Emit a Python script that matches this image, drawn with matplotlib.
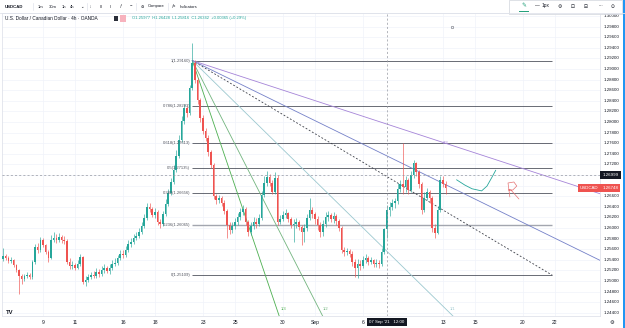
import matplotlib
matplotlib.use("Agg")
import matplotlib.pyplot as plt
import matplotlib.transforms as mtransforms
from matplotlib.patches import Rectangle

plt.rcParams["font.family"] = ["Liberation Sans", "DejaVu Sans"]

W, H = 625, 328

# USDCAD 4h candles, index 0 = 5 Aug 12:00, index 15 = 9 Aug 00:00 (6 candles a day)
first_open = 1.2542
closes = [
    1.2547, 1.2543, 1.2538, 1.2540, 1.2530, 1.2521, 1.2509, 1.2504, 1.2509, 1.2511,
    1.2507, 1.2536, 1.2564, 1.2558, 1.2577, 1.2568, 1.2555, 1.2543, 1.2577, 1.2581,
    1.2577, 1.2583, 1.2577, 1.2575, 1.2536, 1.2528, 1.2530, 1.2524, 1.2532, 1.2545,
    1.2498, 1.2502, 1.2507, 1.2511, 1.2509, 1.2517, 1.2513, 1.2521, 1.2524, 1.2519,
    1.2524, 1.2532, 1.2534, 1.2543, 1.2551, 1.2549, 1.2558, 1.2570, 1.2574, 1.2581,
    1.2585, 1.2592, 1.2604, 1.2619, 1.2640, 1.2636, 1.2625, 1.2630, 1.2611, 1.2608,
    1.2626, 1.2645, 1.2666, 1.2687, 1.2709, 1.2736, 1.2766, 1.2802, 1.2826, 1.2817,
    1.2864, 1.2911, 1.2879, 1.2842, 1.2808, 1.2783, 1.2770, 1.2743, 1.2719, 1.2660,
    1.2653, 1.2657, 1.2647, 1.2632, 1.2606, 1.2596, 1.2604, 1.2611, 1.2621, 1.2630,
    1.2636, 1.2611, 1.2592, 1.2604, 1.2611, 1.2608, 1.2619, 1.2662, 1.2685, 1.2696,
    1.2685, 1.2668, 1.2694, 1.2611, 1.2617, 1.2625, 1.2628, 1.2617, 1.2606, 1.2608,
    1.2611, 1.2602, 1.2592, 1.2600, 1.2619, 1.2634, 1.2626, 1.2617, 1.2606, 1.2592,
    1.2608, 1.2621, 1.2625, 1.2617, 1.2623, 1.2613, 1.2600, 1.2558, 1.2555, 1.2557,
    1.2551, 1.2536, 1.2524, 1.2532, 1.2528, 1.2540, 1.2543, 1.2536, 1.2540, 1.2532,
    1.2534, 1.2532, 1.2555, 1.25977, 1.26342, 1.2640, 1.2647, 1.2651, 1.2674, 1.2683,
    1.2677, 1.2691, 1.2672, 1.2700, 1.2723, 1.2706, 1.2683, 1.2634, 1.2657, 1.2668,
    1.2657, 1.2600, 1.2591, 1.2634, 1.2691, 1.2683, 1.26748,
]
highs = [
    1.2562, 1.2551, 1.2547, 1.2545, 1.2541, 1.2532, 1.2523, 1.2513, 1.2513, 1.2517,
    1.2515, 1.2540, 1.2570, 1.2572, 1.2583, 1.2581, 1.2570, 1.2558, 1.2587, 1.2592,
    1.2589, 1.2591, 1.2587, 1.2585, 1.2579, 1.2543, 1.2538, 1.2534, 1.2540, 1.2551,
    1.2547, 1.2509, 1.2513, 1.2517, 1.2519, 1.2524, 1.2523, 1.2528, 1.2532, 1.2528,
    1.2532, 1.2540, 1.2543, 1.2549, 1.2558, 1.2558, 1.2566, 1.2577, 1.2581, 1.2589,
    1.2592, 1.2600, 1.2611, 1.2626, 1.2647, 1.2647, 1.2640, 1.2638, 1.2634, 1.2617,
    1.2632, 1.2655, 1.2674, 1.2694, 1.2719, 1.2747, 1.2775, 1.2811, 1.2834, 1.2830,
    1.2870, 1.2949, 1.2917, 1.2883, 1.2845, 1.2813, 1.2789, 1.2775, 1.2747, 1.2723,
    1.2664, 1.2662, 1.2660, 1.2653, 1.2636, 1.2611, 1.2611, 1.2619, 1.2628, 1.2638,
    1.2643, 1.2640, 1.2615, 1.2611, 1.2621, 1.2619, 1.2626, 1.2670, 1.2698, 1.2708,
    1.2702, 1.2691, 1.2706, 1.2700, 1.2625, 1.2632, 1.2636, 1.2630, 1.2621, 1.2617,
    1.2619, 1.2615, 1.2606, 1.2608, 1.2626, 1.2657, 1.2640, 1.2630, 1.2623, 1.2611,
    1.2615, 1.2630, 1.2632, 1.2628, 1.2630, 1.2626, 1.2617, 1.2604, 1.2564, 1.2562,
    1.2560, 1.2557, 1.2541, 1.2541, 1.2540, 1.2547, 1.2551, 1.2547, 1.2545, 1.2541,
    1.2541, 1.2540, 1.2562, 1.2600, 1.26428, 1.2649, 1.2655, 1.2657, 1.2685, 1.2691,
    1.2760, 1.2698, 1.2694, 1.2708, 1.2728, 1.2725, 1.2709, 1.2687, 1.2668, 1.2675,
    1.2672, 1.2660, 1.2608, 1.2641, 1.2698, 1.2698, 1.2689,
]
lows = [
    1.2538, 1.2540, 1.2534, 1.2534, 1.2526, 1.2517, 1.2475, 1.2494, 1.2500, 1.2506,
    1.2504, 1.2504, 1.2532, 1.2553, 1.2555, 1.2564, 1.2551, 1.2536, 1.2541, 1.2574,
    1.2572, 1.2574, 1.2572, 1.2570, 1.2532, 1.2523, 1.2523, 1.2521, 1.2523, 1.2528,
    1.2494, 1.2491, 1.2498, 1.2504, 1.2506, 1.2506, 1.2507, 1.2509, 1.2515, 1.2515,
    1.2513, 1.2521, 1.2528, 1.2530, 1.2540, 1.2543, 1.2545, 1.2555, 1.2564, 1.2570,
    1.2577, 1.2581, 1.2589, 1.2600, 1.2615, 1.2630, 1.2621, 1.2619, 1.2606, 1.2600,
    1.2604, 1.2623, 1.2641, 1.2662, 1.2683, 1.2706, 1.2732, 1.2762, 1.2796, 1.2809,
    1.2813, 1.2860, 1.2874, 1.2834, 1.2800, 1.2777, 1.2764, 1.2736, 1.2713, 1.2655,
    1.2645, 1.2647, 1.2641, 1.2626, 1.2581, 1.2589, 1.2591, 1.2598, 1.2606, 1.2615,
    1.2625, 1.2606, 1.2585, 1.2587, 1.2598, 1.2600, 1.2604, 1.2615, 1.2658, 1.2679,
    1.2679, 1.2664, 1.2664, 1.2606, 1.2608, 1.2613, 1.2619, 1.2611, 1.2600, 1.2574,
    1.2600, 1.2596, 1.2568, 1.2574, 1.2594, 1.2615, 1.2619, 1.2608, 1.2596, 1.2583,
    1.2585, 1.2602, 1.2613, 1.2611, 1.2609, 1.2606, 1.2594, 1.2553, 1.2547, 1.2549,
    1.2545, 1.2528, 1.2507, 1.2506, 1.2521, 1.2524, 1.2534, 1.2530, 1.2532, 1.2526,
    1.2526, 1.2524, 1.2528, 1.2551, 1.25816, 1.2623, 1.2634, 1.2638, 1.2645, 1.2668,
    1.2664, 1.2668, 1.2664, 1.2668, 1.2694, 1.2698, 1.2675, 1.2626, 1.2630, 1.2653,
    1.2647, 1.2592, 1.2581, 1.2589, 1.2630, 1.2677, 1.2664,
]

# time axis
date_labels = ["9", "11", "16", "18", "23", "25", "30", "Sep", "6", "13", "15", "20", "22"]
date_index = [15, 27, 45, 57, 75, 87, 105, 117, 135, 165, 177, 195, 207]
price_ticks = [round(1.244 + 0.002 * i, 3) for i in range(29)]

# fib retracement drawn on the chart
fib_names = ["1", "0.786", "0.618", "0.5", "0.382", "0.236", "0"]
fib_ratios = [1, 0.786, 0.618, 0.5, 0.382, 0.236, 0]
fib_high, fib_low = 1.29160, 1.25109
fib_start, fib_end = 71, 206

# speed resistance fan from the top
fan_origin = (71, 1.29160)
fan_box = (95.5, 0.0471)

# crosshair
cross_index, cross_price = 144, 1.26999
last_price = closes[-1]

# hand drawn bits
curve_x = [170.1, 173.2, 175.9, 179.5, 181.5, 183.4, 184.8]
curve_y = [1.2691, 1.2681, 1.2674, 1.2670, 1.2679, 1.2696, 1.2709]
r_x = [190.1, 189.4, 191.6, 192.7, 191.2, 189.7, 190.5, 193.5]
r_y = [1.26585, 1.26849, 1.26868, 1.26792, 1.26717, 1.26717, 1.26717, 1.26547]

opens = [first_open] + closes[:-1]
highs = [max(h, o, c) for h, o, c in zip(highs, opens, closes)]
lows = [min(l, o, c) for l, o, c in zip(lows, opens, closes)]
idx = list(range(len(closes)))

UP, DOWN = "#26a69a", "#ef5350"
TXT = "#131722"

fig = plt.figure(figsize=(W / 100, H / 100), dpi=100)
fig.patch.set_facecolor("white")

ax = fig.add_axes([2 / W, 1 - 316 / H, 598 / W, 303 / H])
ax.set_xlim(-0.375, 223.9)
ax.set_ylim(1.24339, 1.30057)
ax.set_facecolor("white")

# grid
ax.set_yticks(price_ticks)
ax.set_xticks(date_index, date_labels)
ax.grid(color="#f0f3fa", lw=0.5)
ax.set_axisbelow(True)
ax.tick_params(axis="y", length=0, labelleft=False)
ax.tick_params(axis="x", length=0, pad=3.0, labelsize=3.6, labelcolor=TXT)
for s in ax.spines.values():
    s.set_color("#e0e3eb")
    s.set_linewidth(0.6)

# candles
colors = [UP if c >= o else DOWN for o, c in zip(opens, closes)]
ax.vlines(idx, lows, highs, colors=colors, lw=0.45, zorder=3)
bottoms = [min(o, c) for o, c in zip(opens, closes)]
heights = [max(abs(c - o), 0.00012) for o, c in zip(opens, closes)]
ax.bar(idx, heights, bottom=bottoms, width=0.62, color=colors, linewidth=0, zorder=4)

# fib retracement
fib_prices = [fib_low + r * (fib_high - fib_low) for r in fib_ratios]
for name, p in zip(fib_names, fib_prices):
    light = name == "0.236"
    ax.hlines(p, fib_start, fib_end, colors="#a3a6af" if light else "#50535e",
              lw=1.0 if light else 0.6, zorder=2)
    ax.text(fib_start - 0.8, p, f"{name}({p:.5f})", ha="right", va="center",
            fontsize=3.0, color="#50535e", zorder=6)
ax.plot([fib_start, fib_end], [fib_high, fib_low], color="#3c3f48", lw=0.6,
        ls=(0, (2.2, 2.2)), zorder=2)

# fan lines
ox, oy = fan_origin
bw, bh = fan_box
fan = [
    ((bw / 3, bh), "#4caf50", "1/3", "bottom"),
    ((bw / 2, bh), "#72b47e", "1/2", "bottom"),
    ((bw, bh), "#9cc8cf", "1/1", "bottom"),
    ((bw, bh / 2), "#7480c8", None, "right"),
    ((bw, bh / 3), "#a584d8", "2/3", "right"),
]
for (dx, dy), col, lab, where in fan:
    ax.plot([ox, ox + 6 * dx], [oy, oy - 6 * dy], color=col, lw=0.6, zorder=2)
    if lab:
        if where == "bottom":
            ax.text(ox + dx + 1.2, oy - dy + 0.0003, lab, fontsize=3.0, color=col,
                    ha="left", va="center", zorder=6)
        else:
            ax.text(ox + dx - 0.5, oy - dy + 0.0002, lab, fontsize=3.0, color=col,
                    ha="center", va="center", zorder=6)

# hand drawn curve and R
ax.plot(curve_x, curve_y, color="#26a69a", lw=0.6, solid_capstyle="round", zorder=5)
ax.plot(r_x, r_y, color="#e57373", lw=0.5, solid_capstyle="round", zorder=5)
ax.plot([168.4], [1.2979], marker="o", ms=1.8, mfc="none", mec="#6a6d78", mew=0.4, zorder=5)

# crosshair
ax.axvline(cross_index, color="#9598a1", lw=0.5, ls=(0, (3, 3)), zorder=5)
ax.axhline(cross_price, color="#9598a1", lw=0.5, ls=(0, (3, 3)), zorder=5)

# price axis labels
yt = mtransforms.blended_transform_factory(ax.transAxes, ax.transData)
for p in price_ticks:
    if abs(p - 1.270) < 1e-6 or abs(p - 1.268) < 1e-6:
        continue
    ax.text(1.006, p, f"{p:.5f}", transform=yt, fontsize=3.2, color=TXT,
            ha="left", va="center", clip_on=False)

ax.text(1.004, cross_price, f"{cross_price:.5f}", transform=yt, fontsize=3.2,
        color="white", ha="left", va="center", clip_on=False, zorder=10,
        bbox=dict(boxstyle="square,pad=0.45", fc=TXT, ec="none"))
ax.text(1.004, last_price, f"{last_price:.5f}", transform=yt, fontsize=3.2,
        color="white", ha="left", va="center", clip_on=False, zorder=10,
        bbox=dict(boxstyle="square,pad=0.45", fc=DOWN, ec="none"))
ax.text(0.997, last_price, "USDCAD", transform=yt, fontsize=3.2,
        color="white", ha="right", va="center", clip_on=False, zorder=10,
        bbox=dict(boxstyle="square,pad=0.45", fc=DOWN, ec="none"))

xt = mtransforms.blended_transform_factory(ax.transData, ax.transAxes)
ax.text(cross_index, -0.02, "07 Sep '21   12:00", transform=xt, fontsize=3.2,
        color="white", ha="center", va="center", clip_on=False, zorder=10,
        bbox=dict(boxstyle="square,pad=0.5", fc=TXT, ec="none"))

# header rows
def ft(x, y, s, **kw):
    kw.setdefault("fontsize", 3.2)
    kw.setdefault("color", TXT)
    fig.text(x / W, 1 - y / H, s, va="center", **kw)

ft(5, 6.5, "USDCAD", fontweight="bold")
for x, s in [(38, "1m"), (49, "30m"), (62, "1h"), (70, "4h"), (80, "⌄"),
             (90, "⁞⁞"), (100, "‖"), (110, "ıl"), (120, "ƒ"), (130, "−"),
             (141, "⊖"), (148, "Compare"), (172, "ƒx"), (180, "Indicators")]:
    ft(x, 6.5, s, fontsize=3.0)
for x in [33, 87, 136, 168]:
    fig.add_artist(plt.Line2D([x / W, x / W], [1 - 3 / H, 1 - 10 / H], color="#e0e3eb", lw=0.5))
fig.add_artist(plt.Line2D([0, 1], [1 - 13 / H, 1 - 13 / H], color="#e0e3eb", lw=0.6))

ft(5, 18.5, "U.S. Dollar / Canadian Dollar · 4h · OANDA", fontsize=3.4)
fig.add_artist(Rectangle((114 / W, 1 - 21 / H), 4 / W, 5 / H, fc="#2a2e39", ec="none"))
fig.add_artist(Rectangle((120 / W, 1 - 21.5 / H), 6 / W, 6 / H, fc="#f7b2bd", ec="none"))
ft(132, 18.5, "O1.25977  H1.26428  L1.25816  C1.26342  +0.00365 (+0.29%)",
   fontsize=3.0, color=UP)

# floating drawing toolbar
fig.add_artist(Rectangle((509 / W, 1 - 14 / H), 113 / W, 14 / H, fc="white",
                         ec="#d1d4dc", lw=0.5))
ft(521, 6, "✎", fontsize=4.2, color="#1e9e78")
fig.add_artist(plt.Line2D([519 / W, 528 / W], [1 - 11 / H, 1 - 11 / H], color="#1e9e78", lw=0.7))
for x, s in [(535, "—"), (542, "1px"), (558, "⚙"), (571, "⊡"), (584, "⊟"),
             (598, "···"), (611, "⊙")]:
    ft(x, 6, s, fontsize=3.4)

# bottom bits
ft(6, 312.5, "TV", fontsize=4.2, fontweight="bold")
ft(609, 322.5, "⚙", fontsize=3.8)
fig.add_artist(Rectangle((622.5 / W, 0), 2.5 / W, 1, fc="#2196f3", ec="none"))

plt.savefig("out.png", dpi=100)
